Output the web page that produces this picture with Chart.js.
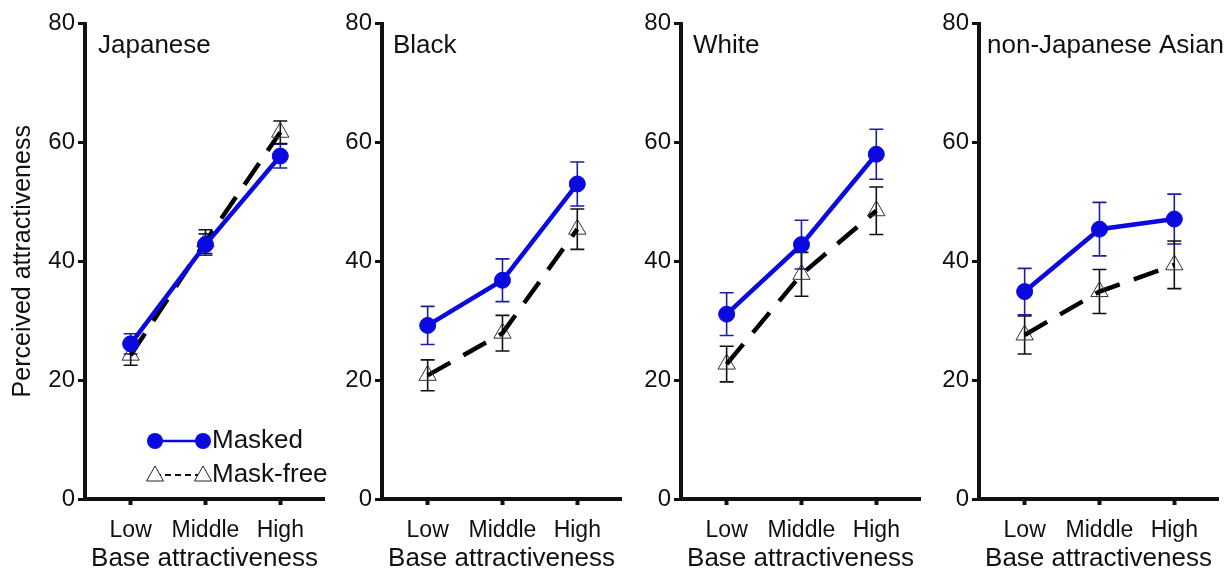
<!DOCTYPE html>
<html>
<head>
<meta charset="utf-8">
<script src="https://cdn.jsdelivr.net/npm/chart.js@4.4.0/dist/chart.umd.min.js"></script>
<style>
  body { margin: 0; background: #fff; width: 1232px; height: 574px; overflow: hidden; position: relative; }
  canvas { position: absolute; top: 0; }
</style>
</head>
<body>
<canvas id="p0"></canvas>
<canvas id="p1"></canvas>
<canvas id="p2"></canvas>
<canvas id="p3"></canvas>
<script>
// data (one entry per panel, Low / Middle / High)
const categories = ['Low', 'Middle', 'High'];
const panelNames = ['Japanese', 'Black', 'White', 'non-Japanese Asian'];
const yTicks = [0, 20, 40, 60, 80];
const seriesNames = ['Masked', 'Mask-free'];

const maskedMeans = [
  [26.1, 42.8, 57.7],
  [29.2, 36.8, 53.0],
  [31.1, 42.8, 58.0],
  [34.9, 45.4, 47.1]
];
const maskedErrors = [
  [1.7, 1.8, 2.0],
  [3.2, 3.6, 3.7],
  [3.6, 4.1, 4.2],
  [3.9, 4.5, 4.2]
];
const maskFreeMeans = [
  [24.2, 43.3, 61.7],
  [20.8, 27.9, 45.4],
  [22.7, 37.8, 48.5],
  [27.6, 34.9, 39.4]
];
const maskFreeErrors = [
  [1.7, 2.0, 1.9],
  [2.6, 3.0, 3.4],
  [3.0, 3.7, 4.0],
  [3.2, 3.7, 4.0]
];

// layout of the four panels (y axis position, width reserved for the y axis)
const axisX = [85, 382, 681, 979];
const yAxisWidth = [85, 60, 60, 60];
const nameOffset = [13, 11, 12, 8];
const axisLen = 246;

const FONT = '"Liberation Sans", Arial, sans-serif';
const BLUE = '#0a0ae0';
const BLUE_ERR = '#1e1ea0';
const INK = '#111';

// vertical error bars with caps, drawn under the points
const errorBars = {
  id: 'errorBars',
  beforeDatasetsDraw(chart) {
    const ctx = chart.ctx, xs = chart.scales.x, ys = chart.scales.y;
    chart.data.datasets.forEach(ds => {
      if (!ds.errors) return;
      ctx.save();
      ctx.strokeStyle = ds.errorColor;
      ctx.lineWidth = 1.6;
      ds.data.forEach((p, i) => {
        const x = xs.getPixelForValue(p.x);
        const top = ys.getPixelForValue(p.y + ds.errors[i]);
        const bot = ys.getPixelForValue(p.y - ds.errors[i]);
        ctx.beginPath();
        ctx.moveTo(x, top); ctx.lineTo(x, bot);
        ctx.moveTo(x - 7, top); ctx.lineTo(x + 7, top);
        ctx.moveTo(x - 7, bot); ctx.lineTo(x + 7, bot);
        ctx.stroke();
      });
      ctx.restore();
    });
  }
};

// group name in the top left corner of each panel
const panelName = {
  id: 'panelName',
  afterDraw(chart, args, opts) {
    const ctx = chart.ctx;
    ctx.save();
    ctx.fillStyle = INK;
    ctx.font = '26px ' + FONT;
    ctx.textBaseline = 'middle';
    ctx.textAlign = 'left';
    ctx.fillText(opts.text, chart.chartArea.left + opts.dx, 46);
    ctx.restore();
  }
};

// legend inside the first panel
const innerLegend = {
  id: 'innerLegend',
  afterDraw(chart, args, opts) {
    if (!opts.show) return;
    const ctx = chart.ctx, a = chart.chartArea;
    const x1 = a.left + 70, x2 = a.left + 118;
    const rows = [a.bottom - 58, a.bottom - 24];
    ctx.save();
    // Masked
    let y = rows[0];
    ctx.strokeStyle = BLUE; ctx.lineWidth = 2.5;
    ctx.beginPath(); ctx.moveTo(x1, y); ctx.lineTo(x2, y); ctx.stroke();
    ctx.fillStyle = BLUE;
    [x1, x2].forEach(x => { ctx.beginPath(); ctx.arc(x, y, 8, 0, Math.PI * 2); ctx.fill(); });
    // Mask-free
    y = rows[1];
    ctx.strokeStyle = INK; ctx.lineWidth = 2.2; ctx.setLineDash([6, 4]);
    ctx.beginPath(); ctx.moveTo(x1, y); ctx.lineTo(x2, y); ctx.stroke();
    ctx.setLineDash([]);
    ctx.lineWidth = 1; ctx.strokeStyle = '#222'; ctx.fillStyle = '#fff';
    [x1, x2].forEach(x => {
      ctx.beginPath();
      ctx.moveTo(x, y - 9); ctx.lineTo(x + 8.5, y + 6); ctx.lineTo(x - 8.5, y + 6); ctx.closePath();
      ctx.fill(); ctx.stroke();
    });
    ctx.fillStyle = INK;
    ctx.font = '26px ' + FONT;
    ctx.textBaseline = 'middle';
    ctx.fillText(seriesNames[0], a.left + 127, rows[0]);
    ctx.fillText(seriesNames[1], a.left + 127, rows[1]);
    ctx.restore();
  }
};

function makePanel(k) {
  const canvas = document.getElementById('p' + k);
  const w = yAxisWidth[k] + axisLen + 4;
  canvas.width = w;
  canvas.height = 574;
  canvas.style.left = (axisX[k] - yAxisWidth[k]) + 'px';

  const pts = arr => arr.map((v, i) => ({ x: i, y: v }));

  new Chart(canvas, {
    type: 'line',
    data: {
      datasets: [{
        label: seriesNames[0],
        data: pts(maskedMeans[k]),
        errors: maskedErrors[k],
        errorColor: BLUE_ERR,
        borderColor: BLUE,
        borderWidth: 4.5,
        pointStyle: 'circle',
        pointRadius: 8,
        pointBackgroundColor: BLUE,
        pointBorderColor: BLUE,
        pointBorderWidth: 1
      }, {
        label: seriesNames[1],
        data: pts(maskFreeMeans[k]),
        errors: maskFreeErrors[k],
        errorColor: INK,
        borderColor: '#000',
        borderWidth: 4.5,
        borderDash: [26, 15],
        pointStyle: 'triangle',
        pointRadius: 10,
        pointBackgroundColor: 'rgba(255,255,255,0)',
        pointBorderColor: '#333',
        pointBorderWidth: 1
      }]
    },
    options: {
      responsive: false,
      animation: false,
      devicePixelRatio: 1,
      layout: { padding: { top: 23.5, bottom: 0, left: 0, right: 4 } },
      plugins: {
        legend: { display: false },
        tooltip: { enabled: false },
        panelName: { text: panelNames[k], dx: nameOffset[k] },
        innerLegend: { show: k === 0 }
      },
      scales: {
        x: {
          type: 'linear',
          min: -0.61,
          max: 2.584,
          afterBuildTicks: s => { s.ticks = categories.map((c, i) => ({ value: i })); },
          afterFit: s => { s.height = 75; s.paddingLeft = 0; s.paddingRight = 0; },
          ticks: {
            callback: v => categories[v],
            color: INK,
            padding: 12,
            font: { family: FONT, size: 23 },
            maxRotation: 0
          },
          grid: { display: true, drawOnChartArea: false, drawTicks: true, tickLength: 6, tickWidth: 4, tickColor: INK },
          border: { display: true, color: INK, width: 4 },
          title: {
            display: true,
            text: 'Base attractiveness',
            color: INK,
            font: { family: FONT, size: 26 },
            padding: { top: 0, bottom: 0 }
          }
        },
        y: {
          min: 0,
          max: 80,
          afterBuildTicks: s => { s.ticks = yTicks.map(v => ({ value: v })); },
          afterFit: s => { s.width = yAxisWidth[k]; s.paddingTop = 0; s.paddingBottom = 0; },
          ticks: {
            color: INK,
            padding: 3,
            font: { family: FONT, size: 24 }
          },
          grid: { display: true, drawOnChartArea: false, drawTicks: true, tickLength: 7, tickWidth: 3, tickColor: INK },
          border: { display: true, color: INK, width: 4 },
          title: {
            display: k === 0,
            text: 'Perceived attractiveness',
            color: INK,
            font: { family: FONT, size: 25 },
            padding: { top: 8, bottom: 0 }
          }
        }
      }
    },
    plugins: [errorBars, panelName, innerLegend]
  });
}

for (let k = 0; k < panelNames.length; k++) makePanel(k);
</script>
</body>
</html>
